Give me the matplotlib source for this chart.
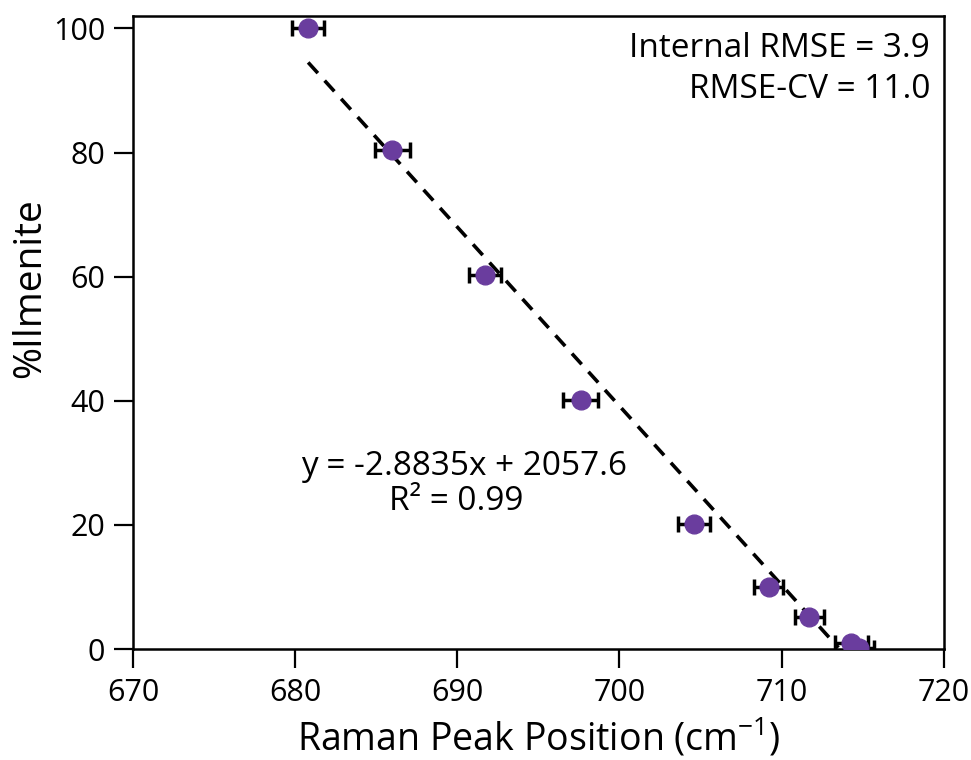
import matplotlib
matplotlib.use("Agg")
import matplotlib.pyplot as plt
import numpy as np

# Data
raman_peak = [680.8, 686.0, 691.7, 697.6, 704.6, 709.2, 711.7, 714.3, 714.8]
pct_ilmenite = [100.0, 80.4, 60.2, 40.1, 20.1, 10.0, 5.2, 1.0, 0.2]
peak_err = [1.0, 1.1, 1.0, 1.1, 1.0, 0.9, 0.9, 1.0, 0.9]
fit_slope = -2.8835
fit_intercept = 2057.6
fit_x_range = [680.8, 713.5]
x_ticks = [670, 680, 690, 700, 710, 720]
y_ticks = [0, 20, 40, 60, 80, 100]

FONT = "Open Sans"
plt.rcParams['font.family'] = [FONT, 'DejaVu Sans']
plt.rcParams['mathtext.fontset'] = 'custom'
plt.rcParams['mathtext.rm'] = FONT
plt.rcParams['mathtext.it'] = FONT

fig = plt.figure(figsize=(9.71, 7.6), dpi=100)
ax = fig.add_axes([0.137, 0.146, 0.835, 0.833])

fx = np.array(fit_x_range)
ax.plot(fx, fit_slope * fx + fit_intercept, linestyle=(0, (4, 2.8)), color='black', lw=2.6, zorder=2)

ax.errorbar(raman_peak, pct_ilmenite, xerr=peak_err, fmt='o', color='#6a3d9e',
            markersize=13.5, ecolor='black', elinewidth=2.5, capsize=5.5, capthick=2.5, zorder=3)

ax.set_xlim(670, 720)
ax.set_ylim(0, 102)
ax.set_xticks(x_ticks)
ax.set_yticks(y_ticks)
ax.tick_params(axis='both', labelsize=22, length=14, width=1.6, direction='out')
ax.tick_params(axis='x', pad=7)
ax.tick_params(axis='y', pad=6)
for s in ax.spines.values():
    s.set_linewidth(1.8)

ax.set_xlabel('Raman Peak Position (cm$^{\\mathregular{-1}}$)', fontsize=27, labelpad=6)
ax.set_ylabel('%Ilmenite', fontsize=28)
ax.yaxis.set_label_coords(-0.103, 0.57)

ax.text(0.983, 0.975, 'Internal RMSE = 3.9\nRMSE-CV = 11.0', transform=ax.transAxes,
        ha='right', va='top', fontsize=24, linespacing=1.32)
ax.text(0.408, 0.288, 'y = -2.8835x + 2057.6', transform=ax.transAxes,
        ha='center', va='center', fontsize=24)
ax.text(0.398, 0.233, 'R² = 0.99', transform=ax.transAxes,
        ha='center', va='center', fontsize=24)

fig.savefig('out.png', dpi=100)
